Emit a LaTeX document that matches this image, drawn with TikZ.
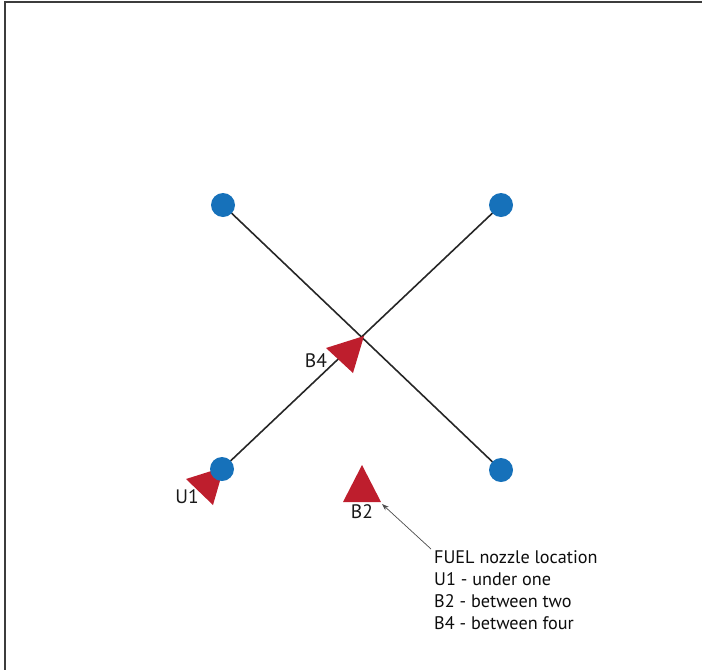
\documentclass[tikz,border=0pt]{standalone}
\usepackage{fontspec}
\setmainfont{PT Sans}
\usetikzlibrary{arrows.meta}
\definecolor{nodeblue}{RGB}{22,113,186}
\definecolor{nozzlered}{RGB}{190,30,45}
\definecolor{framegray}{RGB}{60,60,60}
\tikzset{
  post/.style={circle, fill=nodeblue, minimum size=24pt, inner sep=0pt},
  beam/.style={line width=1.6pt, black!85},
  nozzle/.style={fill=nozzlered},
  tag/.style={font=\fontsize{19.5}{20}\selectfont, text=black!90, inner sep=0pt},
  legend/.style={font=\fontsize{18.2}{22.2}\selectfont, text=black!95, align=left, inner sep=0pt, anchor=north west},
}
\begin{document}
\begin{tikzpicture}[x=1pt, y=-1pt]
\useasboundingbox (0,0) rectangle (702,670);
% frame: top and left edges
\draw[framegray, line width=2pt] (4,2) -- (702,2);
\draw[framegray, line width=2pt] (5,1) -- (5,670);

% support posts
\coordinate (ptl) at (223,205);
\coordinate (ptr) at (501,205);
\coordinate (pbl) at (222,469);
\coordinate (pbr) at (501,470);

% crossing beams
\draw[beam] (ptl) -- (pbr);
\draw[beam] (ptr) -- (pbl);

% nozzle markers
\fill[nozzle] (364,336) -- (326,348) -- (353,373) -- cycle;
\fill[nozzle] (224,467) -- (186,479) -- (213,505) -- cycle;
\fill[nozzle] (362,465) -- (343,502) -- (381,502) -- cycle;
\coordinate (b2tip) at (382,504);

\node[post] (tl) at (ptl) {};
\node[post] (tr) at (ptr) {};
\node[post] (bl) at (pbl) {};
\node[post] (br) at (pbr) {};

% marker labels
\node[tag] (u1) at (187,497) {U1};
\node[tag] (b4) at (316,361) {B4};
\node[tag] (b2) at (362,512) {B2};

% legend
\node[legend] (leg) at (434,550) {FUEL nozzle location\\U1 - under one\\B2 - between two\\B4 - between four};
\coordinate (lstart) at (431,549);
\draw[-{Stealth[length=7pt,width=5pt]}, black!70, line width=0.7pt] (lstart) -- (b2tip);
\end{tikzpicture}
\end{document}
